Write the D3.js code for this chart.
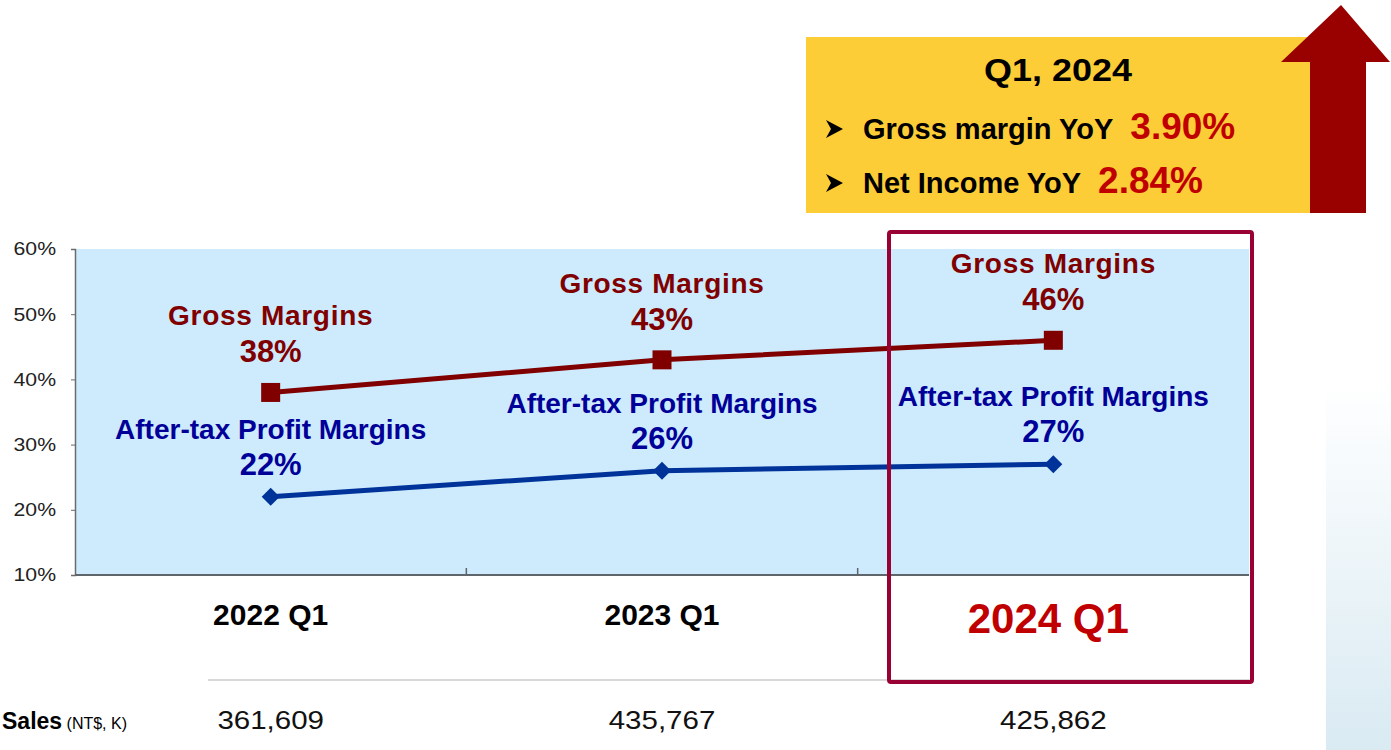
<!DOCTYPE html>
<html>
<head>
<meta charset="utf-8">
<script src="https://cdn.jsdelivr.net/npm/d3@7"></script>
<style>
  body { margin: 0; background: #fff; }
  svg { display: block; font-family: "Liberation Sans", Arial, sans-serif; }
</style>
</head>
<body>
<svg id="chart" width="1391" height="750"></svg>
<script>
// data
var quarters = ["2022 Q1", "2023 Q1", "2024 Q1"];
var grossMargins = [0.38, 0.43, 0.46];
var netMargins = [0.22, 0.26, 0.27];
var sales = ["361,609", "435,767", "425,862"];
var yTicks = [0.1, 0.2, 0.3, 0.4, 0.5, 0.6];
var grossName = "Gross Margins";
var netName = "After-tax Profit Margins";
var boxTitle = "Q1, 2024";
var yoyLabels = ["Gross margin YoY", "Net Income YoY"];
var yoyValues = ["3.90%", "2.84%"];

var svg = d3.select("#chart");
var pct = d3.format(".0%");

// text that is a bit wider than the font (the slide is stretched sideways)
function wideText(parent, px, py, sx) {
  return parent.append("text")
    .attr("transform", "translate(" + px + "," + py + ") scale(" + sx + ",1)");
}

var defs = svg.append("defs");
var grad = defs.append("linearGradient").attr("id", "side").attr("x1", 0).attr("y1", 0).attr("x2", 0).attr("y2", 1);
grad.append("stop").attr("offset", "0%").attr("stop-color", "#ffffff");
grad.append("stop").attr("offset", "100%").attr("stop-color", "#d9eaf2");

// right side gradient panel
svg.append("rect").attr("x", 1326).attr("y", 380).attr("width", 65).attr("height", 370).attr("fill", "url(#side)");

// scales
var x = d3.scaleBand().domain(quarters).range([75, 1249]).padding(0);
var y = d3.scaleLinear().domain([0.1, 0.6]).range([575, 249]);
var cx = function(q) { return x(q) + x.bandwidth() / 2; };

// plot background
svg.append("rect")
  .attr("x", 75).attr("y", y(0.6))
  .attr("width", 1249 - 75).attr("height", y(0.1) - y(0.6))
  .attr("fill", "#cdebfd");

// y axis
var yAxis = svg.append("g")
  .attr("transform", "translate(75,0)")
  .call(d3.axisLeft(y).tickValues(yTicks).tickFormat("").tickSize(4));
yAxis.select(".domain").attr("stroke", "#6b6b6b").attr("stroke-width", 1.5);
yAxis.selectAll(".tick line").attr("stroke", "#6b6b6b");
yTicks.forEach(function(t) {
  wideText(svg, 56, y(t), 1.18)
    .attr("dy", "0.36em").attr("text-anchor", "end")
    .attr("font-size", 18).attr("fill", "#222").text(pct(t));
});

// x axis line + band ticks
svg.append("line").attr("x1", 75).attr("x2", 1249).attr("y1", y(0.1)).attr("y2", y(0.1))
  .attr("stroke", "#5f666b").attr("stroke-width", 2);
svg.selectAll(".xtick").data(quarters.slice(1)).enter().append("line")
  .attr("class", "xtick")
  .attr("x1", function(q) { return x(q); }).attr("x2", function(q) { return x(q); })
  .attr("y1", y(0.1)).attr("y2", y(0.1) - 7)
  .attr("stroke", "#5f666b").attr("stroke-width", 1.5);

// category labels
svg.selectAll(".cat").data(quarters).enter().append("text")
  .attr("class", "cat")
  .attr("x", function(q, i) { return cx(q) - (i === 2 ? 5 : 0); })
  .attr("y", function(q, i) { return i === 2 ? 633 : 625; })
  .attr("text-anchor", "middle")
  .attr("font-weight", "bold")
  .attr("font-size", function(q, i) { return i === 2 ? 42 : 30; })
  .attr("fill", function(q, i) { return i === 2 ? "#c00000" : "#000"; })
  .text(function(q) { return q; });

// sales row
svg.append("line").attr("x1", 208).attr("x2", 1250).attr("y1", 680).attr("y2", 680)
  .attr("stroke", "#d9d9d9").attr("stroke-width", 2);
var salesLabel = svg.append("text").attr("x", 2).attr("y", 729).attr("font-size", 23);
salesLabel.append("tspan").attr("font-weight", "bold").text("Sales");
salesLabel.append("tspan").attr("font-size", 16).text(" (NT$, K)");
sales.forEach(function(d, i) {
  wideText(svg, cx(quarters[i]), 729, 1.18)
    .attr("text-anchor", "middle").attr("font-size", 25).attr("fill", "#111").text(d);
});

// lines
var line = d3.line().x(function(d, i) { return cx(quarters[i]); }).y(function(d) { return y(d); });
svg.append("path").datum(grossMargins).attr("d", line)
  .attr("fill", "none").attr("stroke", "#800000").attr("stroke-width", 5);
svg.append("path").datum(netMargins).attr("d", line)
  .attr("fill", "none").attr("stroke", "#003399").attr("stroke-width", 5);

// markers
svg.selectAll(".sq").data(grossMargins).enter().append("rect")
  .attr("class", "sq")
  .attr("x", function(d, i) { return cx(quarters[i]) - 9.5; })
  .attr("y", function(d) { return y(d) - 9.5; })
  .attr("width", 19).attr("height", 19)
  .attr("fill", "#800000");
svg.selectAll(".dm").data(netMargins).enter().append("path")
  .attr("class", "dm")
  .attr("transform", function(d, i) { return "translate(" + cx(quarters[i]) + "," + y(d) + ")"; })
  .attr("d", "M0,-9L9,0L0,9L-9,0Z")
  .attr("fill", "#003399");

// data labels
function labels(vals, name, color, cls, nameOff, valOff, spacing) {
  var g = svg.selectAll("." + cls).data(vals).enter().append("g").attr("class", cls);
  g.append("text")
    .attr("x", function(d, i) { return cx(quarters[i]); })
    .attr("y", function(d) { return y(d) - nameOff; })
    .attr("text-anchor", "middle").attr("font-weight", "bold").attr("font-size", 28)
    .attr("letter-spacing", spacing)
    .attr("fill", color).text(name);
  g.append("text")
    .attr("x", function(d, i) { return cx(quarters[i]); })
    .attr("y", function(d) { return y(d) - valOff; })
    .attr("text-anchor", "middle").attr("font-weight", "bold").attr("font-size", 31)
    .attr("fill", color).text(function(d) { return pct(d); });
}
labels(grossMargins, grossName, "#800000", "glab", 67, 30, 0.7);
labels(netMargins, netName, "#000099", "nlab", 58, 22, 0);

// highlight box
svg.append("rect").attr("x", 889).attr("y", 232).attr("width", 363).attr("height", 450)
  .attr("rx", 2).attr("fill", "none").attr("stroke", "#990033").attr("stroke-width", 4);

// yellow summary box
svg.append("rect").attr("x", 806).attr("y", 37).attr("width", 504).attr("height", 176).attr("fill", "#fdcd37");
wideText(svg, 1058, 81, 1.16).attr("text-anchor", "middle")
  .attr("font-weight", "bold").attr("font-size", 31).attr("fill", "#000").text(boxTitle);
yoyLabels.forEach(function(lbl, i) {
  var by = 139 + i * 54;
  svg.append("path")
    .attr("transform", "translate(834," + (by - 10) + ")")
    .attr("d", "M-8,-9L9,0L-8,9L-3,0Z")
    .attr("fill", "#000");
  var t = svg.append("text").attr("x", 863).attr("y", by).attr("font-weight", "bold");
  t.append("tspan").attr("font-size", 29).attr("fill", "#000").text(lbl);
  t.append("tspan").attr("font-size", 37).attr("fill", "#c00000").attr("dx", 17).text(yoyValues[i]);
});

// up arrow
svg.append("path")
  .attr("d", "M1310,213L1310,62L1281,62L1341,5L1390,62L1366,62L1366,213Z")
  .attr("fill", "#990000");
</script>
</body>
</html>
